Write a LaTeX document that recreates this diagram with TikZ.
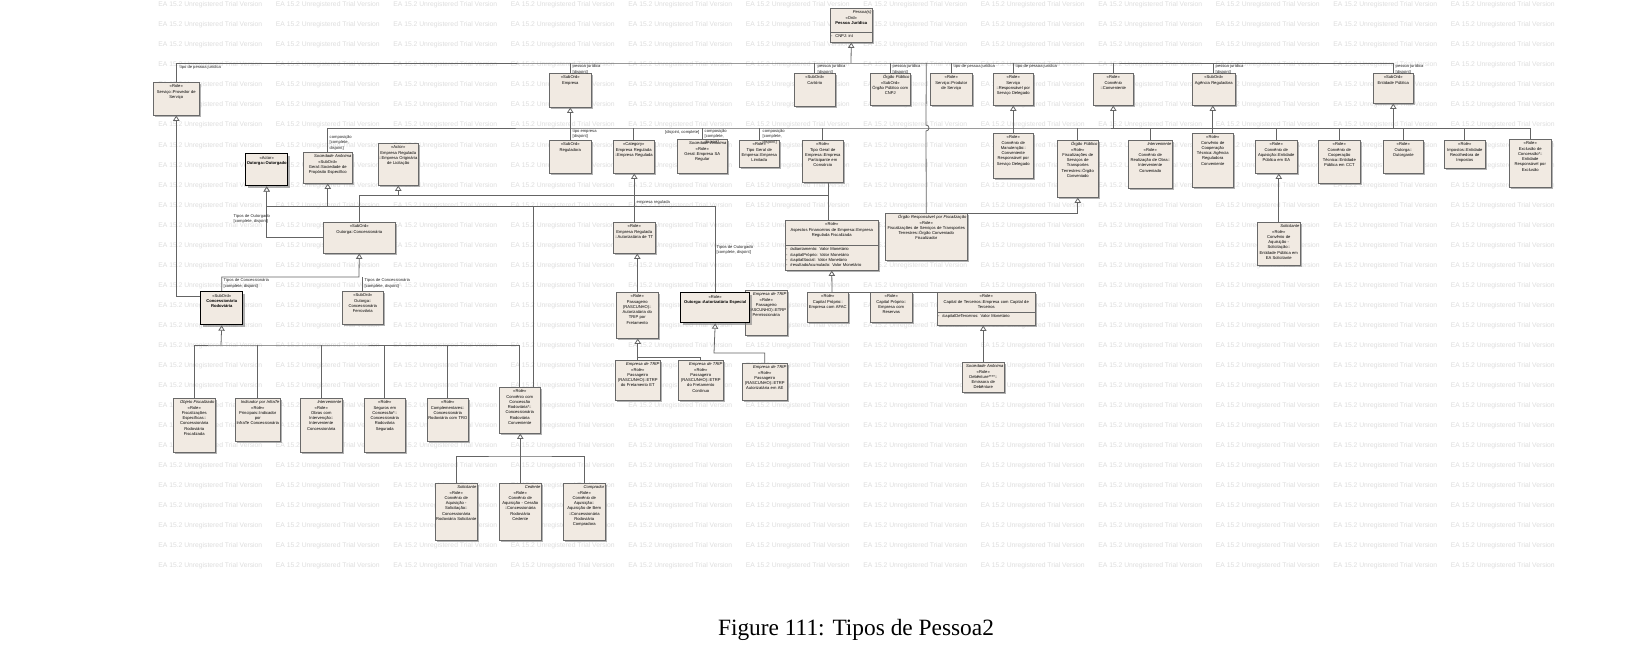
\documentclass[tikz,border=0pt]{standalone}
\usepackage{fontspec}
\setmainfont{Liberation Serif}
\newfontfamily\umlsans{Liberation Sans}
\usepackage{tikz}
\usetikzlibrary{arrows.meta,shapes,shadows}
\definecolor{clsfill}{RGB}{241,234,226}
\definecolor{clsline}{RGB}{105,105,105}
\definecolor{linegray}{RGB}{100,100,100}
\definecolor{wmgray}{RGB}{222,222,222}
\newcommand{\umlfont}{\umlsans\fontsize{2.35}{3}\selectfont}
\newcommand{\wmfont}{\umlsans\fontsize{3.85}{4.5}\selectfont}
\newcommand{\captfont}{\fontsize{13.3}{15}\selectfont}
\tikzstyle{cls} = [draw=clsline, line width=0.3pt, fill=clsfill, anchor=north west,
    align=center, font=\umlfont, inner xsep=0.5pt, inner ysep=1pt, text height=2.2pt,
    drop shadow={shadow xshift=1.1pt, shadow yshift=-1.1pt, fill=black!50, opacity=0.6}]
\tikzstyle{actor} = [cls, draw=black, line width=0.8pt]
\tikzstyle{attr} = [cls, align=left]
\tikzstyle{lbl} = [font=\umlfont, inner sep=0.2pt, align=left, text=black!85]
\tikzstyle{assoc} = [draw=linegray, line width=0.45pt]
\tikzstyle{gen} = [assoc, -{Triangle[open, length=3pt, width=3.6pt, fill=white]}]
\tikzstyle{wmark} = [font=\wmfont, text=wmgray, inner sep=0, anchor=west]
\tikzset{sz/.style 2 args={text width={#1*0.02cm-1pt}, text depth={#2*0.02cm-4.2pt}}}

\begin{document}
\begin{tikzpicture}[x=0.02cm, y=-0.02cm]
  \fill [white] (0,0) rectangle (1652,668);
  \useasboundingbox (0,0) rectangle (1652,668);
  % trial watermark
  \foreach \r in {0,...,28}
    \foreach \c in {0,...,11}
      \node [wmark] (wm-\r-\c) at ({158+117.5*\c},{5+20.04*\r}) {EA 15.2 Unregistered Trial Version};

  % top row
  \node [cls, sz={42}{24}] (pj) at (830,8) {\hfill\textit{Pessoa(s)}\\«Ord»\\\textbf{Pessoa Jurídica}};
  \node [attr, sz={42}{10}] (pj-attr) at (830,32) {-~~CNPJ: int};
  \node [cls, sz={46}{33}] (sp) at (153,82) {«Role»\\Serviço::Provedor de\\Serviço};
  \node [cls, sz={42}{34}] (emp) at (549,73) {«SubOrd»\\Empresa};
  \node [cls, sz={41}{33}] (cart) at (794,73) {«SubOrd»\\Cartório};
  \node [cls, sz={40}{32}] (op) at (870,73) {\hfill\textit{Órgão Público}\\«SubOrd»\\Órgão Público com\\CNPJ};
  \node [cls, sz={42}{32}] (sps) at (930,73) {«Role»\\Serviço::Produtor\\de Serviço};
  \node [cls, sz={40}{32}] (srd) at (993,73) {«Role»\\Serviço\\::Responsável por\\Serviço Delegado};
  \node [cls, sz={40}{32}] (conv) at (1093,73) {«Role»\\Convênio\\::Conveniente};
  \node [cls, sz={43}{32}] (ar) at (1192,73) {«SubOrd»\\Agência Reguladora};
  \node [cls, sz={40}{30}] (ep) at (1373,73) {«SubOrd»\\Entidade Pública};

  % second row
  \node [actor, sz={42}{32}] (ou) at (245,153) {«Actor»\\\textbf{Outorga::Outorgado}};
  \node [cls, sz={49}{31}] (soc) at (303,152) {\hfill\textit{Sociedade Anônima}\\«SubOrd»\\Geral::Sociedade de\\Propósito Específico};
  \node [cls, sz={40}{42}] (erol) at (378,143) {«Actor»\\Empresa Regulada\\::Empresa Originária\\de Licitação};
  \node [cls, sz={42}{33}] (reg) at (549,140) {«SubOrd»\\Reguladora};
  \node [cls, sz={41}{33}] (erer) at (613,140) {«Category»\\Empresa Regulada\\::Empresa Regulada};
  \node [cls, sz={50}{34}] (gsa) at (677,139) {\hfill\textit{Sociedade Anônima}\\«Role»\\Geral::Empresa SA\\Regular};
  \node [cls, sz={40}{27}] (tgl) at (739,140) {«Role»\\Tipo Geral de\\Empresa::Empresa\\Limitada};
  \node [cls, sz={41}{42}] (tgc) at (802,140) {«Role»\\Tipo Geral de\\Empresa::Empresa\\Participante em\\Consórcio};
  \node [cls, sz={40}{45}] (cmc) at (993,133) {«Role»\\Convênio de\\Manutenção::\\Conveniente\\Responsável por\\Serviço Delegado};
  \node [cls, sz={41}{57}] (fsoc) at (1057,140) {\hfill\textit{Órgão Público}\\«Role»\\Fiscalizações de\\Serviços de\\Transportes\\Terrestres::Órgão\\Conveniado};
  \node [cls, sz={44}{48}] (cro) at (1128,140) {\hfill\textit{Interveniente}\\«Role»\\Convênio de\\Realização de Obra::\\Interveniente\\Conveniado};
  \node [cls, sz={41}{54}] (cct) at (1192,133) {«Role»\\Convênio de\\Cooperação\\Técnica::Agência\\Reguladora\\Conveniente};
  \node [cls, sz={42}{33}] (caep) at (1255,140) {«Role»\\Convênio de\\Aquisição::Entidade\\Pública em EA};
  \node [cls, sz={42}{43}] (cctep) at (1318,140) {«Role»\\Convênio de\\Cooperação\\Técnica::Entidade\\Pública em CCT};
  \node [cls, sz={40}{33}] (oo) at (1383,140) {«Role»\\Outorga::\\Outorgante};
  \node [cls, sz={41}{28}] (iep) at (1444,140) {«Role»\\Impostos::Entidade\\Recolhedora de\\Impostos};
  \node [cls, sz={42}{48}] (ece) at (1509,139) {«Role»\\Exclusão de\\Concessão*::\\Entidade\\Responsável por\\Exclusão};

  % third row
  \node [cls, sz={72}{31}] (oc) at (323,222) {«SubOrd»\\Outorga::Concessionária};
  \node [cls, sz={42}{31}] (eroat) at (613,222) {«Role»\\Empresa Regulada\\::Autorizatária de TT};
  \node [cls, sz={93}{25}] (aspect) at (785,220) {«Role»\\Aspectos Financeiros de Empresa::Empresa\\Regulada Fiscalizada};
  \node [attr, sz={93}{25}] (aspect-attr) at (785,245) {-~~/adiantamento: Valor Monetário\\-~~/capitalPróprio: Valor Monetário\\-~~/capitalSocial: Valor Monetário\\-~~/resultadoAcumulado: Valor Monetário};
  \node [cls, sz={82}{47}] (fisc) at (885,213) {\hfill\textit{Órgão Responsável por Fiscalização}\\«Role»\\Fiscalizações de Serviços de Transportes\\Terrestres::Órgão Conveniado\\Fiscalizador};
  \node [cls, sz={43}{43}] (cas) at (1257,222) {\hfill\textit{Solicitante}\\«Role»\\Convênio de\\Aquisição -\\Solicitação::\\Entidade Pública em\\EA Solicitante};

  % fourth row
  \node [actor, sz={42}{33}] (cr) at (200,291) {«SubOrd»\\\textbf{Concessionária}\\\textbf{Rodoviária}};
  \node [cls, sz={41}{33}] (ocf) at (342,291) {«SubOrd»\\Outorga::\\Concessionária\\Ferroviária};
  \node [cls, sz={42}{46}] (pfr) at (616,292) {«Role»\\Passageiro\\(RASCUNHO)::\\Autorizatária do\\TRIP por\\Fretamento};
  \node [cls, sz={42}{45}] (pperm) at (745,290) {\hfill\textit{Empresa de TRIP}\\«Role»\\Passageiro\\(RASCUNHO)::ETRP\\Permissionária};
  \node [actor, sz={69}{30}] (aesp) at (680,292) {«Role»\\\textbf{Outorga::Autorizatária Especial}};
  \node [cls, sz={41}{30}] (cpa) at (807,292) {«Role»\\Capital Próprio::\\Empresa com AFAC};
  \node [cls, sz={42}{30}] (cpr) at (870,292) {«Role»\\Capital Próprio::\\Empresa com\\Reservas};
  \node [cls, sz={98}{20}] (ct) at (937,292) {«Role»\\Capital de Terceiros::Empresa com Capital de\\Terceiros};
  \node [attr, sz={98}{13}] (ct-attr) at (937,312) {-~~/capitalDeTerceiros: Valor Monetário};

  % fifth row
  \node [cls, sz={45}{40}] (pet) at (615,360) {\hfill\textit{Empresa de TRIP}\\«Role»\\Passageiro\\(RASCUNHO)::ETRP\\do Fretamento ET};
  \node [cls, sz={45}{40}] (pcont) at (678,360) {\hfill\textit{Empresa de TRIP}\\«Role»\\Passageiro\\(RASCUNHO)::ETRP\\do Fretamento\\Contínuo};
  \node [cls, sz={45}{37}] (paut) at (742,363) {\hfill\textit{Empresa de TRIP}\\«Role»\\Passageiro\\(RASCUNHO)::ETRP\\Autorizatária em AE};
  \node [cls, sz={42}{30}] (dbt) at (962,362) {\hfill\textit{Sociedade Anônima}\\«Role»\\Debênture****::\\Emissora de Debênture};

  % concessionaria rodoviaria roles
  \node [cls, sz={42}{54}] (fe) at (173,398) {\hfill\textit{Objeto Fiscalizado}\\«Role»\\Fiscalizações\\Específicas::\\Concessionária\\Rodoviária\\Fiscalizada};
  \node [cls, sz={45}{43}] (pip) at (235,398) {\hfill\textit{Indicador por InfraTe}\\«Role»\\Principais::Indicador por\\InfraTe Concessionária};
  \node [cls, sz={42}{54}] (obras) at (300,398) {\hfill\textit{Interveniente}\\«Role»\\Obras com\\Intervenção::\\Interveniente\\Concessionária};
  \node [cls, sz={41}{54}] (seg) at (364,398) {«Role»\\Seguros em\\Concessão*::\\Concessionária\\Rodoviária\\Segurada};
  \node [cls, sz={41}{43}] (comp) at (427,398) {«Role»\\Complementares::\\Concessionária\\Rodoviária com TRO};
  \node [cls, sz={41}{46}] (ccr) at (499,387) {«Role»\\Convênio com\\Concessão\\Rodoviária*::\\Concessionária\\Rodoviária\\Conveniente};
  \node [cls, sz={42}{57}] (cas2) at (435,483) {\hfill\textit{Solicitante}\\«Role»\\Convênio de\\Aquisição -\\Solicitação::\\Concessionária\\Rodoviária Solicitante};
  \node [cls, sz={42}{57}] (cac) at (499,483) {\hfill\textit{Cedente}\\«Role»\\Convênio de\\Aquisição - Cessão\\::Concessionária\\Rodoviária\\Cedente};
  \node [cls, sz={42}{57}] (cab) at (563,483) {\hfill\textit{Comprador}\\«Role»\\Convênio de\\Aquisição::\\Aquisição de Bem\\::Concessionária\\Rodoviária\\Compradora};

  % joints
  \coordinate (bus1) at (851,63);
  \coordinate (bus2) at (700,128);
  \coordinate (hop) at (926,131);
  \coordinate (j1) at (713,206);
  \coordinate (j2) at (828,195);
  \coordinate (j3) at (359,277);
  \coordinate (j4) at (200,296);
  \coordinate (bus3) at (221,345);
  \coordinate (j5) at (832,292);
  \coordinate (j6) at (637,357);
  \coordinate (j7) at (714,353);
  \coordinate (j8) at (533,206);
  \coordinate (bus4) at (520,456);

  % pessoa juridica
  \draw [gen] (bus1) -- (pj-attr.south);
  \draw [assoc] (sp.north) |- (bus1) -| (ep.north);
  \foreach \n in {emp,cart,op,sps,srd,conv,ar}
    \draw [assoc] (\n.north) -- (\n.north |- bus1);
  \draw [assoc] (fisc.north) -- (hop) arc[start angle=90, end angle=-90, radius=3] -- (fisc.north |- bus1);
  \draw [gen] (fisc.north) -| (fsoc.south);

  % second level
  \draw [assoc] (soc.north) |- (bus2) -| (ece.north);
  \foreach \n in {erer,gsa,tgl,tgc,fsoc,cro,caep,cctep,oo,iep}
    \draw [assoc] (\n.north) -- (\n.north |- bus2);
  \draw [gen] (reg.north) -- (emp.south);
  \draw [gen] (cmc.north) -- (srd.south);
  \draw [gen] (conv.south |- bus2) -- (conv.south);
  \draw [gen] (cct.north) -- (cct.north |- ar.south);
  \draw [gen] (ep.south |- bus2) -- (ep.south);
  \draw [gen] (cas.north) -- (cas.north |- caep.south);

  % outorga
  \draw [gen] (oc.west) -| (ou.south);
  \draw [gen] (aesp.north) -- (aesp.north |- j1) -- (ou.south |- j1) -- (ou.south);
  \draw [gen] (soc.south |- j1) -- (soc.south);
  \draw [assoc] (oc.north) -- (oc.north |- j2) -- (j2) -- (j2 |- tgc.south);
  \draw [assoc] (j2) -- (j2 |- aspect.north);
  \draw [gen] (erol.south |- j2) -- (erol.south);
  \draw [gen] (eroat.north) -- (eroat.north |- erer.south);
  \draw [gen] (cr.north) |- (j3) -- (oc.south);
  \draw [assoc] (ocf.north) -- (ocf.north |- j3);
  \draw [gen] (j4) -| (sp.south);

  % passageiro
  \draw [gen] (pfr.north) -- (pfr.north |- eroat.south);
  \draw [gen] (pet.north) -- (pet.north |- pfr.south);
  \draw [assoc] (pcont.north) |- (j6);
  \draw [gen] (paut.north) |- (j7) -- (aesp.south);

  % capital
  \draw [gen] (j5) -- (aspect-attr.south);
  \draw [assoc] (j5) -- (ct.north);
  \draw [gen] (dbt.north) -- (dbt.north |- ct-attr.south);

  % concessionaria rodoviaria
  \draw [gen] (bus3) -- (cr.south);
  \draw [assoc] (fe.north) |- (bus3) -| (ccr.north);
  \foreach \n in {pip,obras,seg,comp}
    \draw [assoc] (\n.north) -- (\n.north |- bus3);
  \draw [assoc] (j8) -- (j8 |- ccr.north);
  \draw [gen] (cac.north) -- (cac.north |- ccr.south);
  \draw [assoc] (cas2.north) |- (bus4) -| (cab.north);

  % connector labels
  \node [lbl, anchor=north west] (l-sp) at (179,65) {tipo de pessoa jurídica};
  \node [lbl, anchor=north west] (l-emp) at (572,64) {pessoa jurídica\\{[disjoint]}};
  \node [lbl, anchor=north west] (l-cart) at (817,64) {pessoa jurídica\\{[disjoint]}};
  \node [lbl, anchor=north west] (l-op) at (892,64) {pessoa jurídica\\{[disjoint]}};
  \node [lbl, anchor=north west] (l-sps) at (953,64) {tipo de pessoa jurídica};
  \node [lbl, anchor=north west] (l-srd) at (1015,64) {tipo de pessoa jurídica};
  \node [lbl, anchor=north west] (l-ar) at (1215,64) {pessoa jurídica\\{[disjoint]}};
  \node [lbl, anchor=north west] (l-ep) at (1395,64) {pessoa jurídica\\{[disjoint]}};
  \node [lbl, anchor=north west] (l-soc) at (329,135) {composição\\{[complete,}\\disjoint]};
  \node [lbl, anchor=north west] (l-reg) at (572,129) {tipo empresa\\{[disjoint]}};
  \node [lbl, anchor=north east] (l-gsa1) at (700,130) {{[disjoint, complete]}};
  \node [lbl, anchor=north west] (l-gsa2) at (704,129) {composição\\{[complete,}\\disjoint]};
  \node [lbl, anchor=north west] (l-tgl) at (762,129) {composição\\{[complete,}\\disjoint]};
  \node [lbl, anchor=north west] (l-ou) at (233,214) {Tipos de Outorgado\\{[complete, disjoint]}};
  \node [lbl, anchor=south west] (l-er) at (636,205) {empresa regulada};
  \node [lbl, anchor=north west] (l-aesp) at (716,245) {Tipos de Outorgado\\{[complete, disjoint]}};
  \node [lbl, anchor=north west] (l-cr) at (223,278) {Tipos de Concessionária\\{[complete, disjoint]}};
  \node [lbl, anchor=north west] (l-ocf) at (364,278) {Tipos de Concessionária\\{[complete, disjoint]}};

  \node [font=\captfont] (caption) at (856,630) {Figure 111: Tipos de Pessoa2};
\end{tikzpicture}
\end{document}
